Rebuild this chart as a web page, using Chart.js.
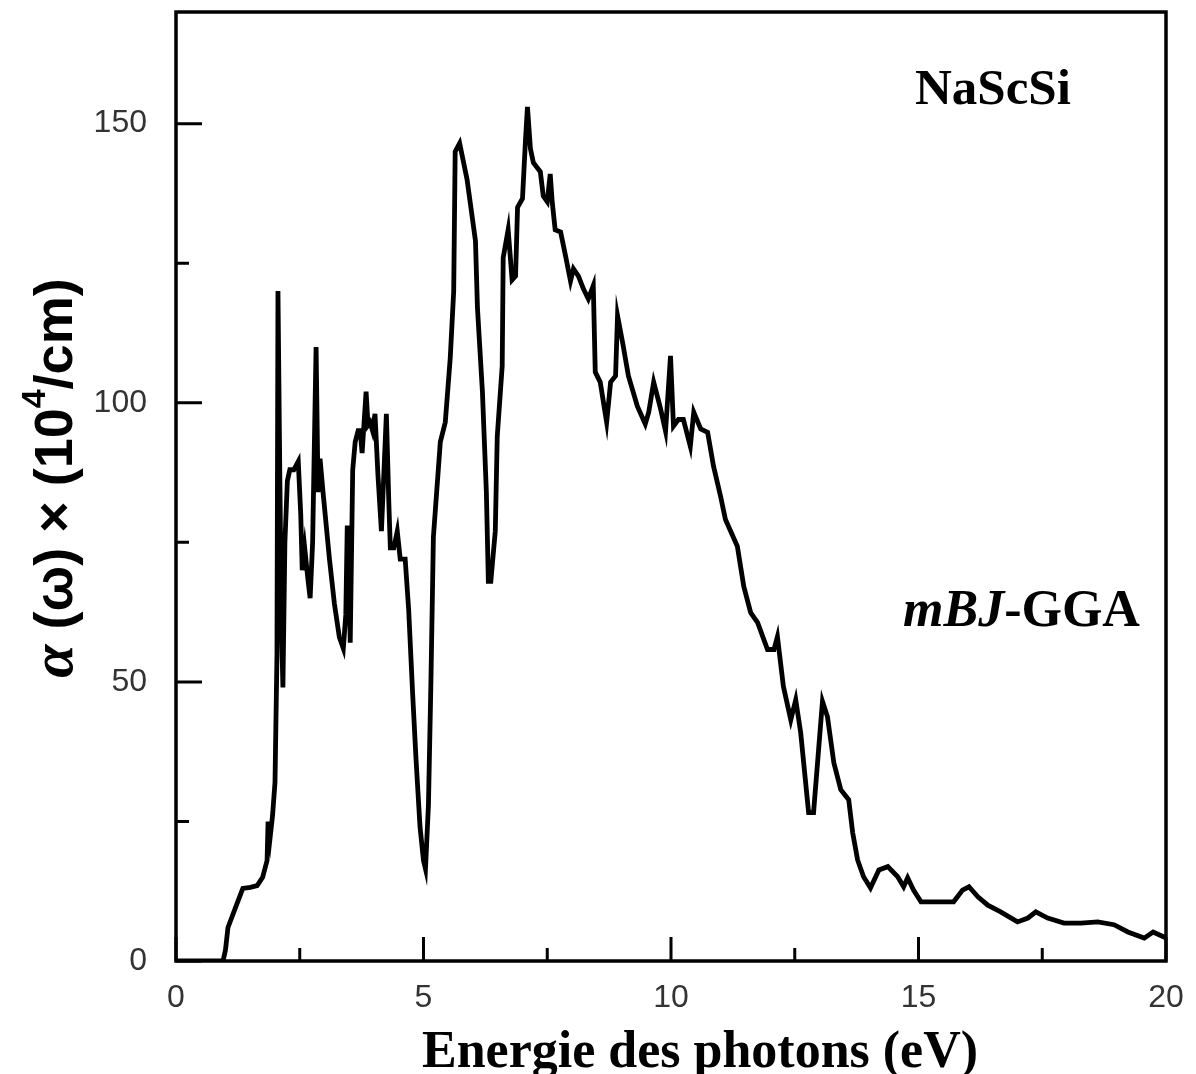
<!DOCTYPE html>
<html>
<head>
<meta charset="utf-8">
<script src="https://cdn.jsdelivr.net/npm/chart.js@4"></script>
<style>
  html, body { margin: 0; padding: 0; background: #fff; overflow: hidden; }
  #wrap { width: 1196px; height: 1074px; position: relative; }
</style>
</head>
<body>
<div id="wrap"><canvas id="grafica"></canvas></div>
<script>
// photon energy (eV) and absorption alpha (10^4/cm)
const energy = [0, 0.95, 1.0, 1.05, 1.2, 1.35, 1.5, 1.64, 1.75, 1.84, 1.86, 1.9, 1.95, 2.0, 2.04, 2.06, 2.1, 2.13, 2.16,
  2.2, 2.25, 2.3, 2.38, 2.47, 2.52, 2.55, 2.6, 2.67, 2.71, 2.76, 2.83, 2.87, 2.91, 2.97, 3.1, 3.2, 3.3, 3.38, 3.43,
  3.46, 3.5, 3.52, 3.57, 3.62, 3.68, 3.72, 3.76, 3.84, 3.88, 3.92, 3.97, 4.02, 4.08, 4.15, 4.25, 4.3, 4.33, 4.4,
  4.47, 4.53, 4.63, 4.7, 4.78, 4.85, 4.93, 5.0, 5.04, 5.1, 5.15, 5.2, 5.34, 5.44, 5.54, 5.61, 5.64, 5.73, 5.88,
  6.05, 6.09, 6.19, 6.27, 6.31, 6.36, 6.45, 6.49, 6.59, 6.61, 6.71, 6.79, 6.86, 6.9, 7.0, 7.06, 7.1, 7.16, 7.22,
  7.36, 7.42, 7.5, 7.56, 7.6, 7.66, 7.77, 7.87, 7.97, 8.03, 8.13, 8.23, 8.33, 8.43, 8.47, 8.57, 8.7, 8.78, 8.88,
  8.92, 9.02, 9.14, 9.32, 9.48, 9.55, 9.65, 9.79, 9.89, 9.99, 10.05, 10.15, 10.25, 10.39, 10.46, 10.6, 10.74,
  10.86, 11.0, 11.1, 11.34, 11.47, 11.61, 11.75, 11.95, 12.08, 12.15, 12.27, 12.42, 12.52, 12.62, 12.78, 12.88,
  13.06, 13.16, 13.29, 13.43, 13.59, 13.67, 13.77, 13.89, 14.03, 14.2, 14.38, 14.58, 14.7, 14.78, 14.9, 15.05,
  15.51, 15.71, 15.89, 16.02, 16.2, 16.4, 16.66, 17.0, 17.21, 17.37, 17.61, 17.94, 18.28, 18.62, 18.95, 19.23,
  19.56, 19.74, 19.96, 20];
const alpha = [0, 0, 2, 6, 9.5, 13, 13.2, 13.5, 15, 18, 25, 22, 26, 32, 55, 120, 85, 60, 49,
  75, 86, 88, 88, 89.5, 80, 70, 74, 68, 65, 75, 110, 84, 90, 84, 72, 64, 58, 56, 62,
  78, 66, 57, 88, 93, 95, 95, 91, 102, 96, 96.5, 95, 98, 87, 77, 98, 82, 74, 74,
  77, 72, 72, 63, 48, 36, 24, 18, 16.5, 28, 50, 76, 93, 96.5, 108, 120, 145, 146.5, 140,
  129, 117, 102, 84, 68, 68, 77, 94, 106.6, 126, 131, 122, 122.7, 135, 136.6, 147, 153, 145.5, 143,
  141.4, 137, 136, 141, 136, 131, 130.6, 126.3, 121.8, 124, 122.7, 120.4, 118.6, 121, 105.5, 103.7, 96.5, 103.7, 104.8,
  115.6, 110.9, 104.8, 99.4, 96.2, 98.3, 103.7, 98.9, 94.9, 108.4, 95.8, 97, 97, 92.2, 98.3, 95.3, 94.7,
  88.6, 83.3, 79.1, 74.3, 67.1, 62.4, 60.6, 55.8, 55.8, 58.1, 49.2, 43.2, 46.8, 40.9, 26.6, 26.6,
  46.5, 43.8, 35.5, 30.7, 28.9, 23, 18.1, 15.1, 13.1, 16.3, 16.9, 15.1, 13.3, 14.9, 12.7, 10.6,
  10.6, 10.6, 12.7, 13.3, 11.5, 10, 8.8, 7, 7.7, 8.8, 7.7, 6.8, 6.8, 7, 6.5, 5.2,
  4.1, 5.2, 4.3, 4.3];

// tick positions
const xMajor = [0, 5, 10, 15, 20];
const xMinor = [2.5, 7.5, 12.5, 17.5];
const yMajor = [0, 50, 100, 150];
const yMinor = [25, 75, 125];

const serif = '"Liberation Serif", "Times New Roman", serif';
const sans = '"Liberation Sans", Arial, sans-serif';

// frame, inward ticks and text labels
const decor = {
  id: 'decor',
  afterDraw(chart) {
    const { ctx, chartArea: a, scales: { x, y } } = chart;
    const L = a.left, B = a.bottom;
    ctx.save();
    ctx.strokeStyle = '#000';
    ctx.lineWidth = 3.5;
    ctx.strokeRect(a.left, a.top, a.right - a.left, a.bottom - a.top);

    // ticks point into the plot area
    ctx.lineWidth = 3;
    ctx.beginPath();
    xMajor.forEach(v => { const px = x.getPixelForValue(v); ctx.moveTo(px, B); ctx.lineTo(px, B - 24); });
    xMinor.forEach(v => { const px = x.getPixelForValue(v); ctx.moveTo(px, B); ctx.lineTo(px, B - 13); });
    yMajor.forEach(v => { const py = y.getPixelForValue(v); ctx.moveTo(L, py); ctx.lineTo(L + 26, py); });
    yMinor.forEach(v => { const py = y.getPixelForValue(v); ctx.moveTo(L, py); ctx.lineTo(L + 13, py); });
    ctx.stroke();

    ctx.fillStyle = '#000';
    ctx.textBaseline = 'alphabetic';
    ctx.textAlign = 'left';
    ctx.font = 'bold 51px ' + serif;
    ctx.fillText('NaScSi', 915, 104);

    // mBJ-GGA
    ctx.font = 'italic bold 52px ' + serif;
    ctx.fillText('mBJ', 903, 626);
    const w = ctx.measureText('mBJ').width;
    ctx.font = 'bold 52px ' + serif;
    ctx.fillText('-GGA', 903 + w, 626);

    // x title
    ctx.textAlign = 'center';
    ctx.font = 'bold 52px ' + serif;
    ctx.fillText('Energie des photons (eV)', 700, 1067);

    // y title, rotated
    const parts = [
      { t: 'α', f: 'italic bold 60px ' + serif, dy: 0 },
      { t: ' (ω) × (10', f: 'bold 54px ' + sans, dy: 0 },
      { t: '4', f: 'bold 34px ' + sans, dy: -27 },
      { t: '/cm)', f: 'bold 54px ' + sans, dy: 0 }
    ];
    let total = 0;
    parts.forEach(p => { ctx.font = p.f; p.w = ctx.measureText(p.t).width; total += p.w; });
    ctx.translate(72, 478);
    ctx.rotate(-Math.PI / 2);
    ctx.textAlign = 'left';
    let cx = -total / 2;
    parts.forEach(p => { ctx.font = p.f; ctx.fillText(p.t, cx, p.dy); cx += p.w; });
    ctx.restore();
  }
};

new Chart(document.getElementById('grafica'), {
  type: 'line',
  data: {
    datasets: [{
      data: energy.map((e, i) => ({ x: e, y: alpha[i] })),
      borderColor: '#000',
      borderWidth: 4.8,
      pointRadius: 0,
      tension: 0,
      fill: false
    }]
  },
  options: {
    responsive: true,
    maintainAspectRatio: false,
    animation: false,
    layout: { padding: { top: 12, right: 30, left: 0, bottom: 0 } },
    plugins: { legend: { display: false }, tooltip: { enabled: false } },
    scales: {
      x: {
        type: 'linear',
        min: 0,
        max: 20,
        afterBuildTicks: s => { s.ticks = xMajor.map(v => ({ value: v })); },
        afterFit: s => { s.height = 113; s.paddingLeft = 0; s.paddingRight = 0; },
        grid: { display: false, drawTicks: false },
        border: { display: false },
        ticks: { padding: 18, maxRotation: 0, color: '#333', font: { family: sans, size: 32 } }
      },
      y: {
        type: 'linear',
        min: 0,
        max: 170,
        afterBuildTicks: s => { s.ticks = yMajor.map(v => ({ value: v })); },
        afterFit: s => { s.width = 176; s.paddingTop = 0; s.paddingBottom = 0; },
        grid: { display: false, drawTicks: false },
        border: { display: false },
        ticks: { padding: 29, color: '#333', font: { family: sans, size: 32 } }
      }
    }
  },
  plugins: [decor]
});
</script>
</body>
</html>
